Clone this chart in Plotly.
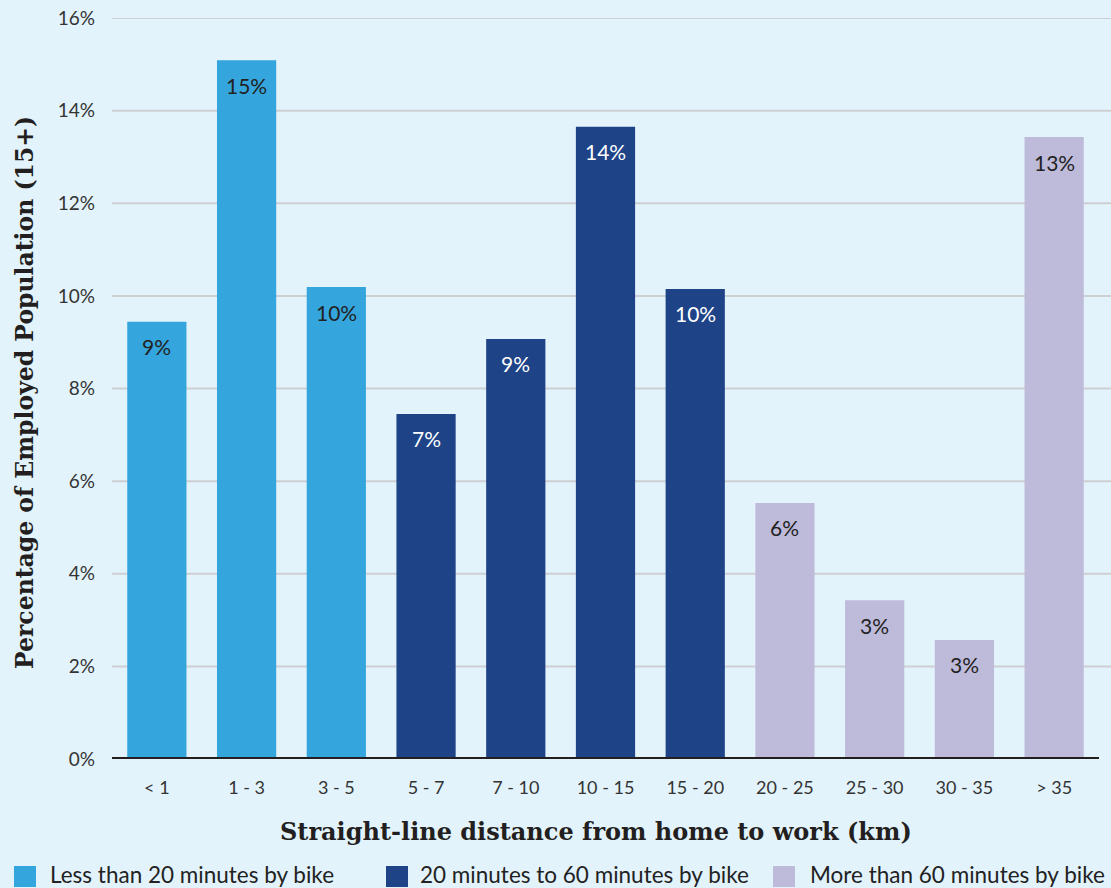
import plotly.graph_objects as go

categories = ["< 1", "1 - 3", "3 - 5", "5 - 7", "7 - 10", "10 - 15", "15 - 20",
              "20 - 25", "25 - 30", "30 - 35", "> 35"]
values = [9.44, 15.09, 10.19, 7.45, 9.07, 13.65, 10.15, 5.53, 3.43, 2.57, 13.43]
groups = ["Less than 20 minutes by bike"] * 3 + ["20 minutes to 60 minutes by bike"] * 4 + \
         ["More than 60 minutes by bike"] * 4
group_names = ["Less than 20 minutes by bike", "20 minutes to 60 minutes by bike",
               "More than 60 minutes by bike"]
group_colors = {"Less than 20 minutes by bike": "#35A6DD",
                "20 minutes to 60 minutes by bike": "#1E4387",
                "More than 60 minutes by bike": "#BEBAD9"}
label_colors = {"Less than 20 minutes by bike": "#222222",
                "20 minutes to 60 minutes by bike": "#FFFFFF",
                "More than 60 minutes by bike": "#222222"}
y_ticks = [0, 2, 4, 6, 8, 10, 12, 14, 16]

BG = "#E3F3FC"
W, H = 1111, 888
L, R, T, B = 112, 12, 18, 129
PW, PH = W - L - R, H - T - B


def px(x):
    return (x - L) / PW


def py(y):
    return (H - B - y) / PH


SANS = "Lato, Open Sans, sans-serif"
SERIF = "DejaVu Serif, serif"

fig = go.Figure()
for g in group_names:
    xs = [c for c, gg in zip(categories, groups) if gg == g]
    ys = [v for v, gg in zip(values, groups) if gg == g]
    fig.add_trace(go.Bar(x=xs, y=ys, name=g, marker=dict(color=group_colors[g], line=dict(width=0)),
                         width=0.66, showlegend=False))
    for x, y in zip(xs, ys):
        fig.add_annotation(x=x, y=y, text=f"{round(y)}%", showarrow=False, yshift=-25,
                           font=dict(family=SANS, size=21, color=label_colors[g]))

# gridlines (extend to the right edge as in the reference)
for t in y_ticks[1:]:
    fig.add_shape(type="line", xref="paper", yref="y", x0=0, x1=px(W), y0=t, y1=t,
                  line=dict(color="#CDCFD2", width=2), layer="below")
# baseline
fig.add_shape(type="line", xref="paper", yref="y", x0=0, x1=1, y0=0, y1=0,
              line=dict(color="#231F20", width=4), layer="above")

# axis titles
fig.add_annotation(xref="paper", yref="paper", x=px(596), y=py(831), text="Straight-line distance from home to work (km)",
                   showarrow=False, xanchor="center", yanchor="middle",
                   font=dict(family=SERIF, size=24, color="#231F20", weight="bold"))
fig.add_annotation(xref="paper", yref="paper", x=px(25), y=py(393), text="Percentage of Employed Population (15+)",
                   showarrow=False, xanchor="center", yanchor="middle", textangle=-90,
                   font=dict(family=SERIF, size=23.5, color="#231F20", weight="bold"))

# legend (manual, to match the large swatches)
leg = [(14, 48), (386, 418), (773, 808)]
for (sx, tx), g in zip(leg, group_names):
    fig.add_shape(type="rect", xref="paper", yref="paper", x0=px(sx), x1=px(sx + 22),
                  y0=py(866), y1=py(887), fillcolor=group_colors[g], line=dict(width=0))
    fig.add_annotation(xref="paper", yref="paper", x=px(tx), y=py(874), text=g, showarrow=False,
                       xanchor="left", yanchor="middle",
                       font=dict(family=SANS, size=22.5, color="#222222"))

fig.update_layout(
    width=W, height=H,
    paper_bgcolor=BG, plot_bgcolor=BG,
    margin=dict(l=L, r=R, t=T, b=B, autoexpand=False),
    barmode="overlay",
    showlegend=False,
    xaxis=dict(categoryorder="array", categoryarray=categories, showgrid=False, zeroline=False,
               tickfont=dict(family=SANS, size=18, color="#333333"),
               ticks="", ticklabelstandoff=16, automargin=False),
    yaxis=dict(range=[0, 16], tickvals=y_ticks, ticktext=[f"{t}%" for t in y_ticks],
               showgrid=False, zeroline=False,
               tickfont=dict(family=SANS, size=19, color="#333333"),
               ticks="", ticklabelstandoff=16, automargin=False),
)

fig.write_html("out.html")
